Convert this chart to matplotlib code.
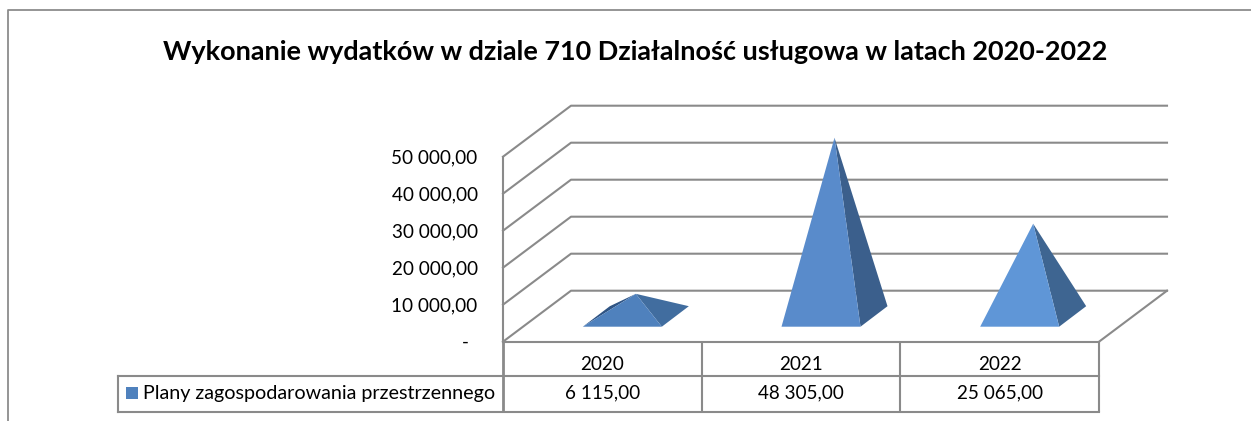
import matplotlib
matplotlib.use("Agg")
import matplotlib.pyplot as plt
from matplotlib.patches import Polygon, Rectangle

plt.rcParams["font.family"] = ["Lato", "DejaVu Sans"]

TITLE = "Wykonanie wydatków w dziale 710 Działalność usługowa w latach 2020-2022"
SERIES_NAME = "Plany zagospodarowania przestrzennego"
YEARS = ["2020", "2021", "2022"]
VALUES = [6115.00, 48305.00, 25065.00]
VALUE_LABELS = ["6 115,00", "48 305,00", "25 065,00"]
Y_TICKS = [0, 10000, 20000, 30000, 40000, 50000]
Y_LABELS = ["-", "10 000,00", "20 000,00", "30 000,00", "40 000,00", "50 000,00"]

# one axes over the whole figure: x in categories, y in value units
PX_PER_CAT = 198.67
PX_PER_VAL = 0.0037
X0_PX = 503
Y0_PX = 341.7
DEPTH_DX = 68 / PX_PER_CAT
DEPTH_DY = 51 / PX_PER_VAL

GRID = "#8a8a8a"
FRONT = ["#4f81bd", "#598bcb", "#5f96d7"]
SIDE = ["#416d9f", "#3b5f8c", "#3e6591"]
SLIVER = "#2f5484"


def px_x(p):
    return (p - X0_PX) / PX_PER_CAT


def px_y(p):
    return (Y0_PX - p) / PX_PER_VAL


fig = plt.figure(figsize=(12.51, 4.21), dpi=100)
ax = fig.add_axes([0, 0, 1, 1])
ax.set_xlim(px_x(0), px_x(1251))
ax.set_ylim(px_y(421), px_y(0))
ax.axis("off")

# outer chart frame
ax.plot([px_x(8), px_x(8), px_x(1251)], [px_y(421), px_y(10), px_y(10)], color="#8c8c8c", lw=1.3)

ax.text(px_x(635), px_y(52.5), TITLE, ha="center", va="center", fontsize=19.45, fontweight="bold", color="black")

# walls and gridlines
for t in Y_TICKS:
    ax.plot([0, DEPTH_DX, 3 + DEPTH_DX], [t, t + DEPTH_DY, t + DEPTH_DY], color=GRID, lw=1.5)
ax.plot([0, 0], [0, Y_TICKS[-1]], color=GRID, lw=1.5)
ax.plot([3, 3 + DEPTH_DX], [0, DEPTH_DY], color=GRID, lw=1.5)

# labels sit about a pixel under their gridline
label_drop = 1 / PX_PER_VAL
for t, lab in zip(Y_TICKS, Y_LABELS):
    if lab == "-":
        ax.text(px_x(465), t - label_drop, lab, ha="center", va="center", fontsize=13.5, color="black")
    else:
        ax.text(px_x(477.5), t - label_drop, lab, ha="right", va="center", fontsize=13.6, color="black")

# pyramids, sitting a little to the right of the table columns
half = 39.5 / PX_PER_CAT
gap_dx = 27 / PX_PER_CAT
gap_dy = 20.5 / PX_PER_VAL
base = 15 / PX_PER_VAL
shift = 20 / PX_PER_CAT
for i, v in enumerate(VALUES):
    cx = i + 0.5 + shift
    x1, x2 = cx - half, cx + half
    apex = (cx + gap_dx / 2, base + gap_dy / 2 + v)
    if i == 0:
        ax.add_patch(Polygon([(x1, base), (x1 + gap_dx, base + gap_dy), apex], color=SLIVER, lw=0, zorder=3))
    ax.add_patch(Polygon([(x2, base), (x2 + gap_dx, base + gap_dy), apex], color=SIDE[i], lw=0, zorder=3))
    ax.add_patch(Polygon([(x1, base), (x2, base), apex], color=FRONT[i], lw=0, zorder=4))

# data table
row1 = px_y(376)
row2 = px_y(411.5)
ax.plot([0, 3], [0, 0], color=GRID, lw=1.5)
ax.plot([px_x(118), 3], [row1, row1], color=GRID, lw=1.5)
ax.plot([px_x(118), 3], [row2, row2], color=GRID, lw=1.5)
ax.plot([px_x(118), px_x(118)], [row1, row2], color=GRID, lw=1.5)
for c in range(4):
    ax.plot([c, c], [0, row2], color=GRID, lw=2 if c == 0 else 1.5, solid_capstyle="butt")

for i in range(3):
    ax.text(i + 0.5, px_y(365), YEARS[i], ha="center", va="center", fontsize=13.6, color="black")
    ax.text(i + 0.5, px_y(393), VALUE_LABELS[i], ha="center", va="center", fontsize=13.6, color="black")

ax.add_patch(Rectangle((px_x(126), px_y(399)), 12 / PX_PER_CAT, 12 / PX_PER_VAL, color="#4f81bd", lw=0))
ax.text(px_x(143), px_y(393), SERIES_NAME, ha="left", va="center", fontsize=14.2, color="black")

fig.savefig("out.png", dpi=100)
